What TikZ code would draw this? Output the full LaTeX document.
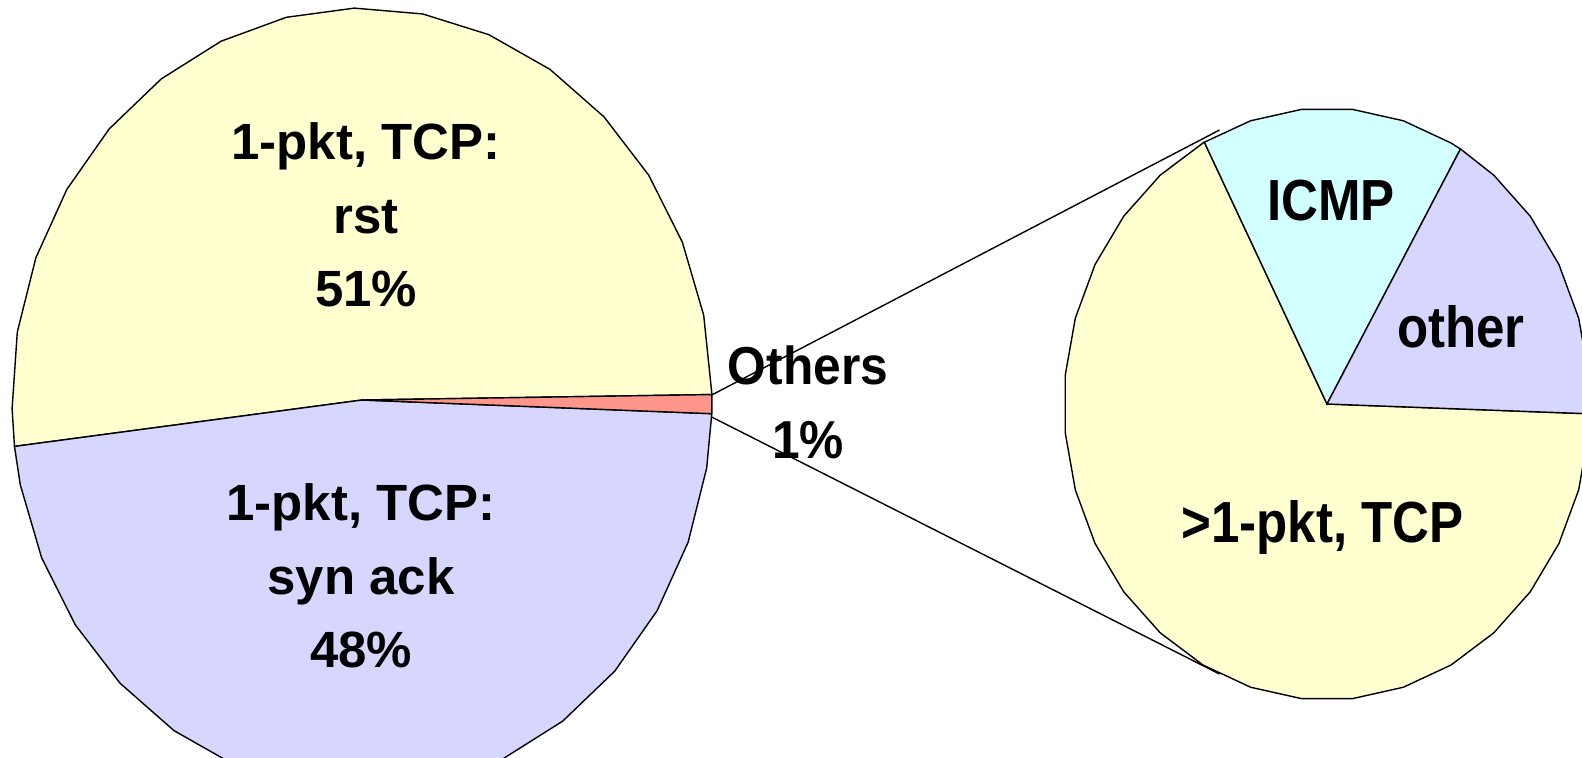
\documentclass[tikz,border=0pt]{standalone}
\usepackage{fontspec}
\setmainfont{Liberation Sans}
\usetikzlibrary{positioning}
\definecolor{fillrst}{RGB}{255,255,208}
\definecolor{fillsyn}{RGB}{214,214,255}
\definecolor{fillothers}{RGB}{255,150,140}
\definecolor{fillicmp}{RGB}{210,255,255}
\tikzstyle{slice} = [draw=black, line width=0.4pt, line join=miter]
\tikzstyle{zoomline} = [draw=black, line width=0.4pt]
\tikzstyle{pielabel} = [font=\fontsize{14.5}{20.9}\selectfont\bfseries, align=center, inner sep=0pt]
\tikzstyle{othlabel} = [pielabel, font=\fontsize{15.2}{20.9}\selectfont\bfseries, xscale=0.93]
\tikzstyle{zoomlabel} = [pielabel, font=\fontsize{16.5}{20.9}\selectfont\bfseries, xscale=0.88]

\begin{document}
\begin{tikzpicture}[x=0.1mm, y=0.1mm]
    \clip (0,0) rectangle (1582,757);

    % big pie
    \begin{scope}[shift={(362,357)}]
        \coordinate (lc) at (0,0);
        \filldraw[slice, fill=fillrst] (lc) -- (0.8:350 and 392)
            \foreach \k in {1,...,16} { -- ({1.25+11.25*\k}:350 and 392) }
            -- (186.8:350 and 392) -- cycle;
        \filldraw[slice, fill=fillsyn] (lc) -- (186.8:350 and 392)
            \foreach \k in {17,...,31} { -- ({1.25+11.25*\k}:350 and 392) }
            -- (358:350 and 392) -- cycle;
        \filldraw[slice, fill=fillothers] (lc) -- (-2:350 and 392)
            -- (0.8:350 and 392) -- cycle;
    \end{scope}

    % small pie
    \begin{scope}[shift={(1327,353)}]
        \coordinate (rc) at (0,0);
        \filldraw[slice, fill=fillrst] (rc) -- (117.8:263 and 296)
            \foreach \k in {10,...,31} { -- ({5.625+11.25*\k}:263 and 296) }
            -- (358.1:263 and 296) -- cycle;
        \filldraw[slice, fill=fillicmp] (rc) -- (59.5:263 and 296)
            \foreach \k in {5,...,9} { -- ({5.625+11.25*\k}:263 and 296) }
            -- (117.8:263 and 296) -- cycle;
        \filldraw[slice, fill=fillsyn] (rc) -- (-1.9:263 and 296)
            \foreach \k in {0,...,4} { -- ({5.625+11.25*\k}:263 and 296) }
            -- (59.5:263 and 296) -- cycle;
    \end{scope}

    % lines to the zoomed pie
    \coordinate (othtop) at (711.7,362);
    \coordinate (othbot) at (711.7,340);
    \coordinate (zoomtop) at (1219.5,627);
    \coordinate (zoombot) at (1219.5,83);
    \draw[zoomline] (othtop) -- (zoomtop);
    \draw[zoomline] (othbot) -- (zoombot);

    \node[pielabel] (rstlabel) at (366,542) {1-pkt, TCP:\\rst\\51\%};
    \node[pielabel] (synlabel) at (361,181) {1-pkt, TCP:\\syn ack\\48\%};
    \node[othlabel] (otherslabel) at (808,354.5) {Others\\1\%};
    \node[zoomlabel] (icmplabel) at (1331,556) {ICMP};
    \node[zoomlabel] (otherlabel) at (1461,430) {other};
    \node[zoomlabel] (tcplabel) at (1322.5,230) {>1-pkt, TCP};
\end{tikzpicture}
\end{document}
